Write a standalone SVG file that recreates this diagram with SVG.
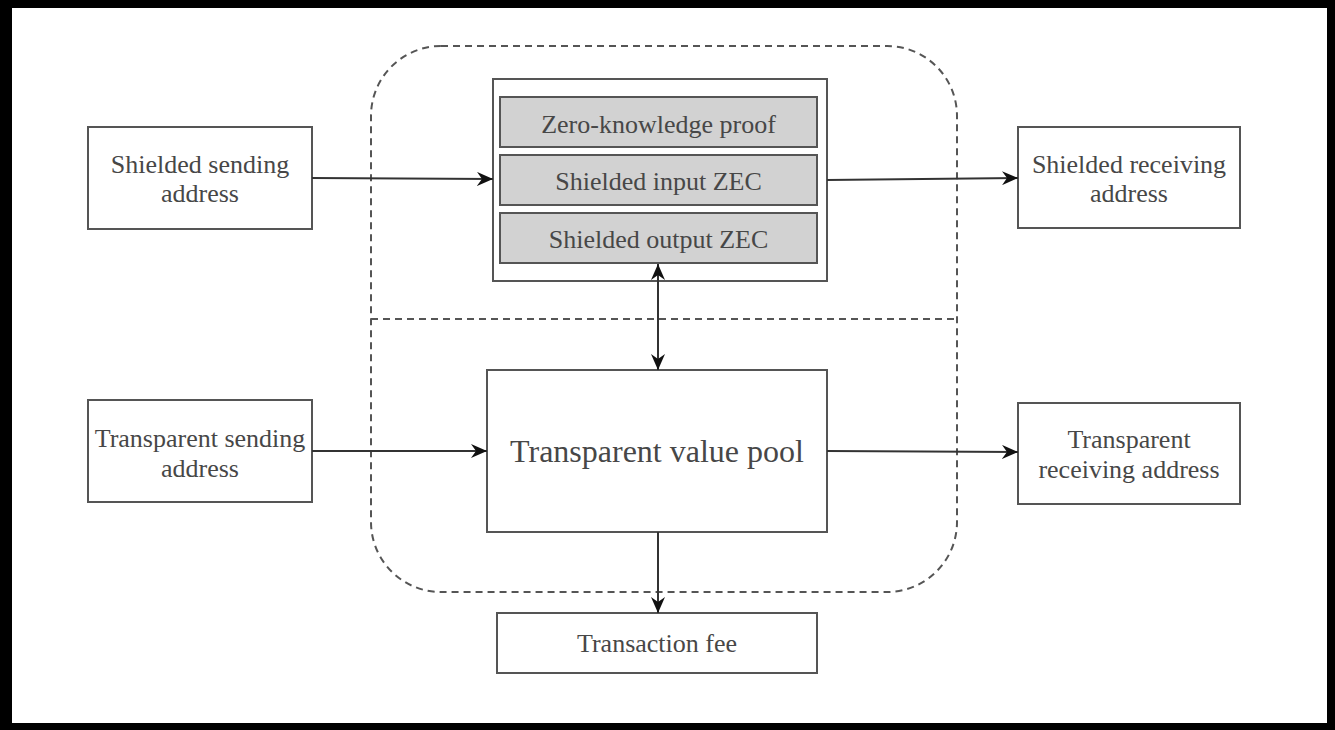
<svg xmlns="http://www.w3.org/2000/svg" width="1335" height="730" viewBox="0 0 1335 730">
<style>
.box{fill:#fff;stroke:#555;stroke-width:2}
.sub{fill:#d2d2d2;stroke:#555;stroke-width:2}
.t{font-family:"Liberation Serif","Times New Roman",serif;font-size:26px;fill:#474747;text-anchor:middle}
.big{font-size:32px}
.dash{fill:none;stroke:#555;stroke-width:2;stroke-dasharray:7,5}
.conn{fill:none;stroke:#333;stroke-width:2}
</style>
<defs>
<marker id="ah" markerUnits="userSpaceOnUse" markerWidth="18" markerHeight="14" refX="16" refY="7" orient="auto-start-reverse">
<path d="M0,0 L16,7 L0,14 L5,7 Z" fill="#111"/>
</marker>
</defs>
<rect x="0" y="0" width="1335" height="730" fill="#000"/>
<rect x="12" y="8" width="1315" height="715" fill="#fff"/>

<g id="boundary">
<rect class="dash" x="371" y="46" width="586" height="546" rx="70" ry="70"/>
<line class="dash" x1="371" y1="319" x2="957" y2="319"/>
</g>

<g id="shielded-sending">
<rect class="box" x="88" y="127" width="224" height="102"/>
<text class="t" x="200" y="173">Shielded sending</text>
<text class="t" x="200" y="202">address</text>
</g>

<g id="shielded-group">
<rect class="box" x="493" y="79" width="334" height="202"/>
</g>
<g id="zkp">
<rect class="sub" x="500" y="97" width="317" height="50"/>
<text class="t" x="658.5" y="133">Zero-knowledge proof</text>
</g>
<g id="shielded-input">
<rect class="sub" x="500" y="155" width="317" height="50"/>
<text class="t" x="658.5" y="190">Shielded input ZEC</text>
</g>
<g id="shielded-output">
<rect class="sub" x="500" y="213" width="317" height="50"/>
<text class="t" x="658.5" y="248">Shielded output ZEC</text>
</g>

<g id="shielded-receiving">
<rect class="box" x="1018" y="127" width="222" height="101"/>
<text class="t" x="1129" y="173">Shielded receiving</text>
<text class="t" x="1129" y="202">address</text>
</g>

<g id="transparent-sending">
<rect class="box" x="88" y="400" width="224" height="102"/>
<text class="t" x="200" y="447">Transparent sending</text>
<text class="t" x="200" y="477">address</text>
</g>

<g id="transparent-pool">
<rect class="box" x="487" y="370" width="340" height="162"/>
<text class="t big" x="657" y="462">Transparent value pool</text>
</g>

<g id="transparent-receiving">
<rect class="box" x="1018" y="403" width="222" height="101"/>
<text class="t" x="1129" y="448">Transparent</text>
<text class="t" x="1129" y="478">receiving address</text>
</g>

<g id="transaction-fee">
<rect class="box" x="497" y="613" width="320" height="60"/>
<text class="t" x="657" y="652">Transaction fee</text>
</g>

<g id="connectors">
<path class="conn" d="M312,178 L493,179" marker-end="url(#ah)"/>
<path class="conn" d="M827,180 L1018,178" marker-end="url(#ah)"/>
<path class="conn" d="M312,451 L487,451" marker-end="url(#ah)"/>
<path class="conn" d="M827,451 L1018,452" marker-end="url(#ah)"/>
<path class="conn" d="M658,264 L658,370" marker-start="url(#ah)" marker-end="url(#ah)"/>
<path class="conn" d="M658,532 L658,613" marker-end="url(#ah)"/>
</g>
</svg>
